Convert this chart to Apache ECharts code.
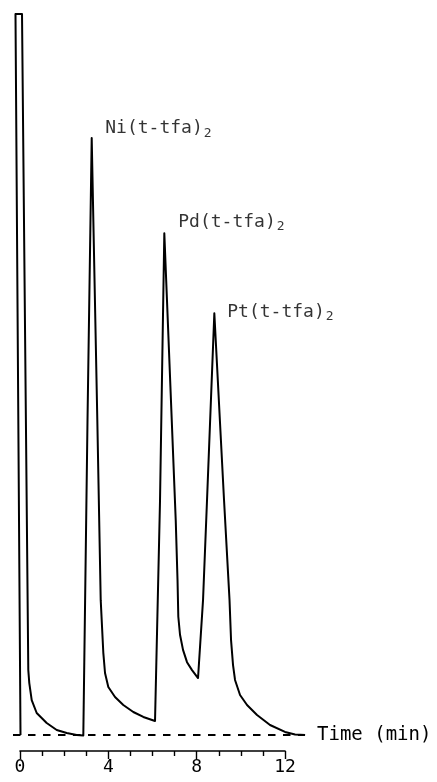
<!DOCTYPE html>
<html>
<head>
<meta charset="utf-8">
<script src="https://cdn.jsdelivr.net/npm/echarts@6/dist/echarts.min.js"></script>
<style>
html,body{margin:0;padding:0;background:#fff;}
#c{width:437px;height:782px;}
</style>
</head>
<body>
<div id="c"></div>
<script>
// Chromatogram trace: time (min) and detector response (relative units, solvent top = 100)
const traceTime = [
  0.023, -0.204, 0.091, 0.376, 0.421, 0.530, 0.756, 1.209, 1.662, 2.115, 2.568, 2.867,
  2.899, 3.057, 3.247, 3.501, 3.655, 3.773, 3.850, 3.999, 4.303, 4.678, 5.131, 5.584, 6.114,
  6.159, 6.341, 6.535, 7.052, 7.133, 7.169, 7.246, 7.382, 7.563, 7.790, 8.062,
  8.288, 8.469, 8.800, 9.239, 9.488, 9.556, 9.647, 9.737, 9.964, 10.281, 10.734, 11.322, 12.000, 12.455, 12.908
];
const traceSignal = [
  0, 100, 100, 9.0, 7.2, 4.85, 3.05, 1.66, 0.69, 0.28, 0, -0.07,
  0, 43.7, 82.8, 43.7, 18.7, 11.4, 8.6, 6.66, 5.27, 4.16, 3.19, 2.50, 1.94,
  1.80, 32.6, 69.6, 29.8, 21.5, 16.4, 13.9, 11.8, 10.1, 9.0, 7.9,
  18.7, 32.6, 58.5, 32.6, 18.7, 13.2, 9.7, 7.63, 5.55, 4.16, 2.77, 1.39, 0.42, 0.07, 0
];
// Baseline (dashed) start and end times
const baselineTime = [-0.317, 12.908];
const baselineSignal = [0, 0];
// Peak labels (at the apex of each peak)
const peakNames = ['Ni(t-tfa)', 'Pd(t-tfa)', 'Pt(t-tfa)'];
const peakSub = ['2', '2', '2'];
const peakTime = [3.247, 6.535, 8.800];
const peakSignal = [82.8, 69.6, 58.5];
const axisTitle = 'Time (min)';
const xTicks = [0, 4, 8, 12];
// plotting window for the trace (min)
const plotRange = [-0.5, 13.5];

const mono = '"DejaVu Sans Mono", "Liberation Mono", monospace';
const labelOffsets = [[13, -9.3], [13.4, -11.3], [12.4, -1.3]];

const W = 437;
const pxPerMin = 265 / (xTicks[xTicks.length - 1] - xTicks[0]);
const rulerLeft = 20, rulerRight = W - 20 - 265;
const dataLeft = rulerLeft + (plotRange[0] - xTicks[0]) * pxPerMin;
const dataRight = W - (rulerLeft + (plotRange[1] - xTicks[0]) * pxPerMin);

const chart = echarts.init(document.getElementById('c'), null, {renderer: 'canvas'});
chart.setOption({
  backgroundColor: '#ffffff',
  animation: false,
  grid: [
    {left: dataLeft, right: dataRight, top: 14, bottom: 31},
    {left: rulerLeft, right: rulerRight, top: 14, bottom: 31}
  ],
  xAxis: [
    {
      gridIndex: 0, type: 'value', min: plotRange[0], max: plotRange[1], show: false,
      splitLine: {show: false}
    },
    {
      gridIndex: 1, type: 'value',
      min: xTicks[0], max: xTicks[xTicks.length - 1], interval: 4,
      axisLine: {show: true, onZero: false, lineStyle: {color: '#000', width: 1.6}},
      axisTick: {show: true, length: 8, lineStyle: {color: '#000', width: 1.4}},
      minorTick: {show: true, splitNumber: 4, length: 5, lineStyle: {color: '#000', width: 1.4}},
      splitLine: {show: false},
      axisLabel: {color: '#000', fontFamily: mono, fontSize: 18, margin: 7}
    }
  ],
  yAxis: [
    {gridIndex: 0, type: 'value', min: -2.22, max: 100, show: false, splitLine: {show: false}},
    {gridIndex: 1, type: 'value', min: -2.22, max: 100, show: false, splitLine: {show: false}}
  ],
  series: [
    {
      type: 'line', xAxisIndex: 0, yAxisIndex: 0,
      data: baselineTime.map((t, i) => [t, baselineSignal[i]]),
      symbol: 'none', silent: true,
      lineStyle: {color: '#000', width: 2, type: [7.5, 7.5]},
      endLabel: {
        show: true, formatter: axisTitle, distance: 12,
        color: '#000', fontFamily: mono, fontSize: 19
      }
    },
    {
      type: 'line', xAxisIndex: 0, yAxisIndex: 0,
      data: traceTime.map((t, i) => [t, traceSignal[i]]),
      symbol: 'none', smooth: false,
      lineStyle: {color: '#000', width: 2, join: 'round'}
    },
    {
      type: 'scatter', xAxisIndex: 0, yAxisIndex: 0,
      symbolSize: 1,
      itemStyle: {color: 'rgba(0,0,0,0)'},
      data: peakTime.map((t, i) => ({
        value: [t, peakSignal[i]],
        label: {offset: labelOffsets[i]}
      })),
      label: {
        show: true, position: 'right', distance: 0,
        formatter: p => '{a|' + peakNames[p.dataIndex] + '}{b|' + peakSub[p.dataIndex] + '}',
        rich: {
          a: {fontFamily: mono, fontSize: 18, lineHeight: 22, color: '#000', verticalAlign: 'middle'},
          b: {fontFamily: mono, fontSize: 13, lineHeight: 13, color: '#000', verticalAlign: 'bottom', padding: [0, 0, 0, 1]}
        }
      }
    }
  ]
});
</script>
</body>
</html>
